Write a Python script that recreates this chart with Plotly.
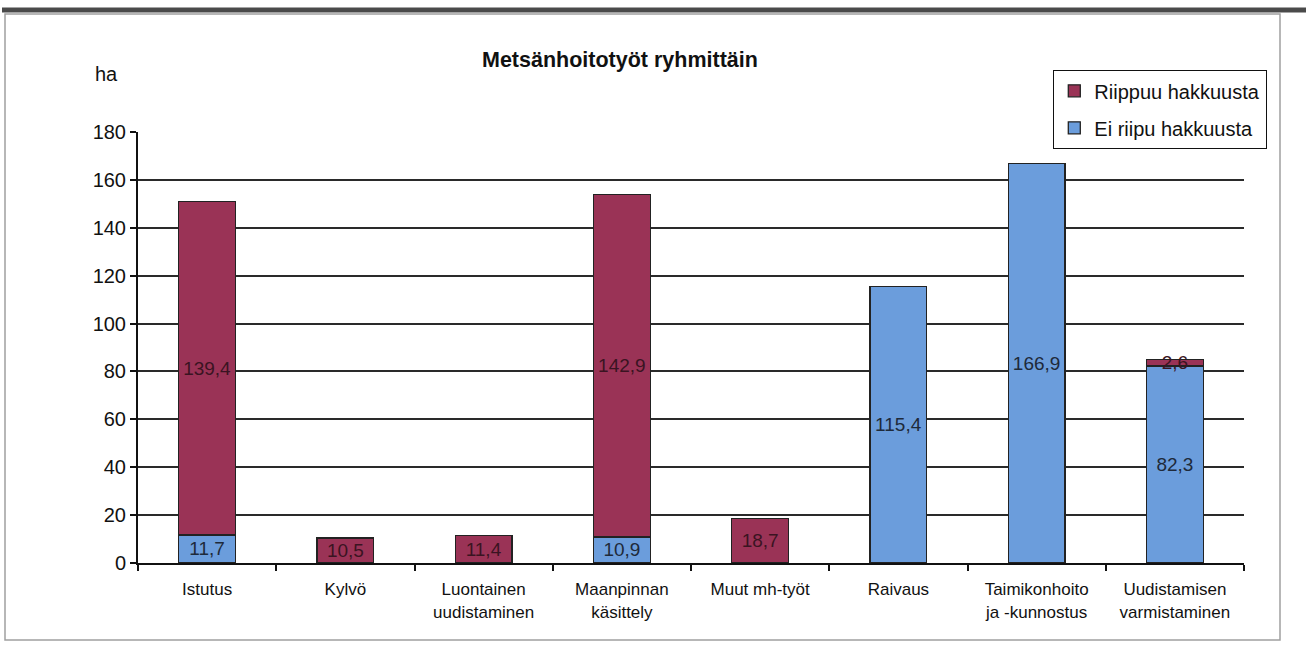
import plotly.graph_objects as go

# Forest management work by group (ha)
categories = [
    "Istutus",
    "Kylvö",
    "Luontainen<br>uudistaminen",
    "Maanpinnan<br>käsittely",
    "Muut mh-työt",
    "Raivaus",
    "Taimikonhoito<br>ja -kunnostus",
    "Uudistamisen<br>varmistaminen",
]
ei_riipu = [11.7, None, None, 10.9, None, 115.4, 166.9, 82.3]   # Ei riipu hakkuusta
riippuu = [139.4, 10.5, 11.4, 142.9, 18.7, None, None, 2.6]     # Riippuu hakkuusta
y_ticks = [0, 20, 40, 60, 80, 100, 120, 140, 160, 180]

FONT = "Liberation Sans, Arial, sans-serif"
MAROON = "#9a3356"
BLUE = "#6b9ddc"


def fi(v):
    return "" if v is None else f"{v:.1f}".replace(".", ",")


fig = go.Figure()
fig.add_trace(go.Bar(
    x=categories, y=ei_riipu, name="Ei riipu hakkuusta",
    marker=dict(color=BLUE, line=dict(color="#222", width=1.3)),
    text=[fi(v) for v in ei_riipu], textposition="inside", textangle=0,
    insidetextanchor="middle", insidetextfont=dict(family=FONT, size=19, color="#1e2a3a"),
    legendgroup="b", legendrank=2,
))
fig.add_trace(go.Bar(
    x=categories, y=riippuu, name="Riippuu hakkuusta",
    marker=dict(color=MAROON, line=dict(color="#222", width=1.3)),
    text=[fi(v) for v in riippuu], textposition="inside", textangle=0,
    insidetextanchor="middle", insidetextfont=dict(family=FONT, size=19, color="#3a1422"),
    legendgroup="a", legendrank=1,
))

# plot area in pixels: x 138..1244, y 132..563
L, R, T, B = 138, 1244, 132, 563
W, H = R - L, B - T


def px(x):
    return (x - L) / W


def py(y):
    return (B - y) / H


shapes = [
    # outer chart frame
    dict(type="rect", xref="paper", yref="paper", x0=px(5), x1=px(1280), y0=py(640), y1=py(14),
         line=dict(color="#a0a0a0", width=1.5), fillcolor="rgba(0,0,0,0)", layer="below"),
    # heavy rule across the top of the page
    dict(type="line", xref="paper", yref="paper", x0=px(2), x1=px(1306), y0=py(10), y1=py(10),
         line=dict(color="#4a4a4a", width=5)),
]

annotations = [
    dict(text="<b>Metsänhoitotyöt ryhmittäin</b>", xref="paper", yref="paper",
         x=px(620), y=py(60), xanchor="center", yanchor="middle", showarrow=False,
         font=dict(family=FONT, size=21.5, color="#111")),
    dict(text="ha", xref="paper", yref="paper", x=px(93), y=py(74),
         xanchor="left", yanchor="middle", showarrow=False,
         font=dict(family=FONT, size=20, color="#111")),
]

fig.update_layout(
    width=1306, height=650, autosize=False,
    margin=dict(l=L, r=1306 - R, t=T, b=650 - B),
    barmode="stack", bargap=0.59,
    paper_bgcolor="white", plot_bgcolor="white",
    font=dict(family=FONT, color="#111"),
    showlegend=True,
    legend=dict(
        x=px(1053), y=py(70), xanchor="left", yanchor="top",
        bgcolor="white", bordercolor="#111", borderwidth=1.3,
        font=dict(family=FONT, size=20, color="#111"),
        traceorder="grouped", tracegroupgap=8,
    ),
    uniformtext=dict(minsize=19, mode="show"),
    shapes=shapes,
    annotations=annotations,
)
fig.update_yaxes(
    range=[0, 180], tickvals=y_ticks, ticks="outside", ticklen=6, tickcolor="#111", tickwidth=1.5,
    showline=True, linecolor="#111", linewidth=2,
    showgrid=True, gridcolor="#2a2a2a", gridwidth=1.6, zeroline=False,
    tickfont=dict(family=FONT, size=20, color="#111"),
)
fig.update_xaxes(
    type="category", showline=True, linecolor="#111", linewidth=2,
    ticks="outside", tickson="boundaries", ticklen=6, tickcolor="#111", tickwidth=1.5,
    showgrid=False, tickfont=dict(family=FONT, size=17, color="#111"),
    ticklabelstandoff=10,
)

fig.write_html("out.html")
